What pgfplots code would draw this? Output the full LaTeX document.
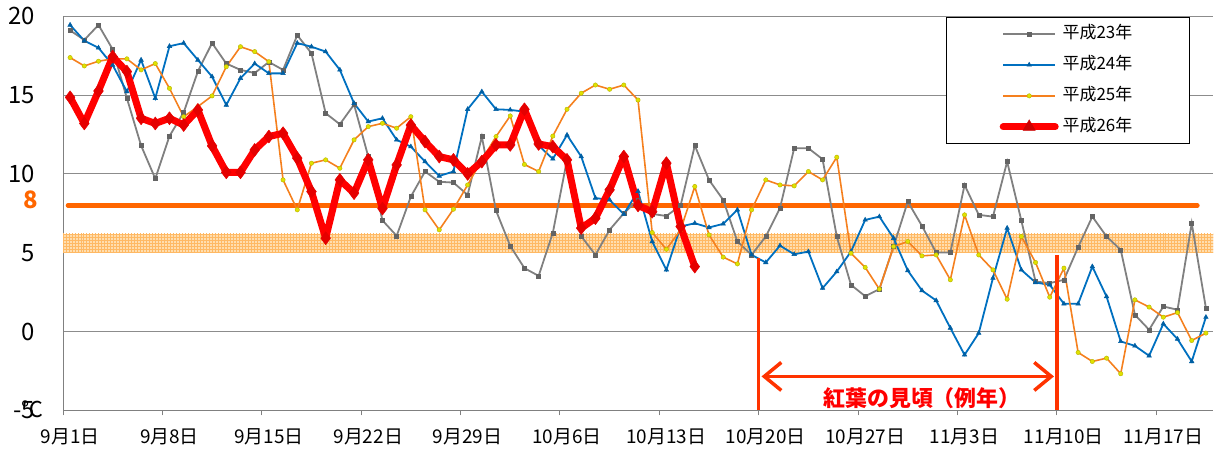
\documentclass[border=0pt]{standalone}
\usepackage{fontspec}
\setmainfont{Noto Sans CJK JP}
\usepackage{pgfplots}
\pgfplotsset{compat=1.18}
\usetikzlibrary{arrows.meta,patterns}
\definecolor{g23}{RGB}{128,128,128}
\definecolor{g23m}{RGB}{100,100,100}
\definecolor{b24}{RGB}{0,112,192}
\definecolor{o25}{RGB}{245,128,30}
\definecolor{y25}{RGB}{225,225,0}
\definecolor{r26}{RGB}{255,0,0}
\definecolor{line8}{RGB}{255,102,0}
\definecolor{vline}{RGB}{255,51,0}
\definecolor{bandc}{RGB}{255,222,175}
\definecolor{bandp}{RGB}{255,185,100}
\begin{document}
\begin{tikzpicture}
\begin{axis}[
  name=ax,
  scale only axis, width=1150bp, height=394bp,
  xmin=-0.5, xmax=80.5, ymin=-5, ymax=20,
  axis lines*=left,
  axis line style={draw=black!50, line width=1bp},
  ytick={-5,0,5,10,15,20},
  yticklabels={-5,0,5,10,15,20},
  ymajorgrids,
  grid style={draw=black!45, line width=0.9bp},
  xtick={0,7,...,77},
  xticklabels={9月1日,9月8日,9月15日,9月22日,9月29日,10月6日,10月13日,10月20日,10月27日,11月3日,11月10日,11月17日},
  major tick length=0pt,
  extra x ticks={-0.5,6.5,13.5,20.5,27.5,34.5,41.5,48.5,55.5,62.5,69.5,76.5},
  extra x tick labels={},
  extra x tick style={major tick length=5bp, tick align=outside, tick style={draw=black!50, line width=1bp}},
  yticklabel style={font=\fontsize{24}{24}\selectfont, anchor=east, inner sep=0pt, xshift=-28bp},
  xticklabel style={font=\fontsize{19}{19}\selectfont, anchor=north, inner sep=0pt, yshift=-18bp},
  clip=false,
  legend image code/.code={\draw[mark repeat=2,mark phase=2,#1] plot coordinates {(0bp,0bp) (26bp,0bp) (52bp,0bp)};},
  legend style={at={(axis cs:61.7,19.97)}, anchor=north west, draw=black, line width=1.2bp, fill=white,
    font=\fontsize{17}{17}\selectfont, inner xsep=53bp, inner ysep=9bp, row sep=16bp,
    nodes={inner xsep=4bp, inner ysep=0pt, text height=12bp, text depth=3bp}},
  legend cell align=left,
]
% band 5 - 6.2
\fill[bandc] (axis cs:-0.5,5) rectangle (axis cs:80.5,6.2);
\fill[pattern=grid, pattern color=bandp] (axis cs:-0.5,5) rectangle (axis cs:80.5,6.2);
% line at 8
\draw[line8, line width=4.5bp, line cap=round] (axis cs:-0.15,8) -- (axis cs:79.4,8);

\addplot[draw=g23, line width=1.8bp, mark=square*, mark size=2bp, mark options={fill=g23m, draw=g23m, line width=0.5bp}] table {
x y
0 19.1
1 18.5
2 19.45
3 17.9
4 14.8
5 11.8
6 9.7
7 12.4
8 13.9
9 16.5
10 18.3
11 17.0
12 16.6
13 16.4
14 17.1
15 16.6
16 18.8
17 17.65
18 13.85
19 13.15
20 14.4
21 11.1
22 7.05
23 6.07
24 8.56
25 10.15
26 9.5
27 9.45
28 8.67
29 12.37
30 7.67
31 5.43
32 4.02
33 3.53
34 6.26
35 10.9
36 6.05
37 4.86
38 6.45
39 7.5
40 8.35
41 7.46
42 7.33
43 8.0
44 11.8
45 9.62
46 8.35
47 5.71
48 4.86
49 6.03
50 7.83
51 11.63
52 11.63
53 10.93
54 6.03
55 2.96
56 2.24
57 2.69
58 5.39
59 8.24
60 6.7
61 5.01
62 5.01
63 9.3
64 7.4
65 7.29
66 10.78
67 7.04
68 3.17
69 3.07
70 3.28
71 5.35
72 7.29
73 6.03
74 5.18
75 1.06
76 0.11
77 1.59
78 1.38
79 6.87
80 1.48
};
\addlegendentry{平成23年}

\addplot[draw=b24, line width=1.8bp, mark=triangle*, mark size=2.6bp, mark options={fill=b24!85!black, draw=b24!85!black, line width=0.5bp}] table {
x y
0 19.45
1 18.45
2 18.0
3 16.9
4 15.22
5 17.23
6 14.8
7 18.1
8 18.3
9 17.23
10 16.17
11 14.37
12 16.07
13 17.0
14 16.38
15 16.38
16 18.3
17 18.07
18 17.76
19 16.6
20 14.48
21 13.32
22 13.53
23 12.16
24 11.73
25 10.78
26 9.87
27 10.15
28 14.1
29 15.22
30 14.1
31 14.06
32 13.95
33 11.8
34 10.95
35 12.47
36 11.1
37 8.47
38 8.35
39 7.45
40 8.9
41 5.71
42 3.91
43 6.66
44 6.87
45 6.6
46 6.83
47 7.72
48 4.86
49 4.38
50 5.45
51 4.9
52 5.07
53 2.75
54 3.8
55 5.07
56 7.08
57 7.29
58 5.92
59 3.87
60 2.6
61 1.97
62 0.22
63 -1.48
64 -0.1
65 3.39
66 6.56
67 3.91
68 3.11
69 2.96
70 1.76
71 1.76
72 4.12
73 2.22
74 -0.63
75 -0.91
76 -1.54
77 0.49
78 -0.48
79 -1.9
80 0.91
};
\addlegendentry{平成24年}

\addplot[draw=o25, line width=1.6bp, mark=*, mark size=2.2bp, mark options={fill=y25, draw=y25!80!black, line width=0.4bp}] table {
x y
0 17.38
1 16.85
2 17.15
3 17.3
4 17.3
5 16.6
6 17.0
7 15.43
8 13.63
9 14.27
10 14.95
11 16.8
12 18.07
13 17.76
14 17.12
15 9.62
16 7.72
17 10.68
18 10.89
19 10.36
20 12.16
21 13.0
22 13.21
23 12.9
24 13.63
25 7.72
26 6.45
27 7.76
28 9.3
29 10.89
30 12.37
31 13.68
32 10.6
33 10.15
34 12.4
35 14.1
36 15.12
37 15.64
38 15.37
39 15.64
40 14.69
41 6.28
42 5.22
43 6.45
44 9.2
45 6.13
46 4.72
47 4.29
48 7.72
49 9.62
50 9.3
51 9.24
52 10.15
53 9.62
54 11.06
55 4.97
56 4.07
57 2.69
58 5.39
59 5.71
60 4.8
61 4.86
62 3.28
63 7.4
64 4.86
65 3.91
66 2.05
67 6.03
68 4.38
69 2.18
70 4.02
71 -1.33
72 -1.9
73 -1.69
74 -2.68
75 2.01
76 1.55
77 0.91
78 1.2
79 -0.57
80 -0.1
};
\addlegendentry{平成25年}

\addplot[forget plot, draw=r26, line width=7bp, line join=round, mark=diamond*, mark size=6.5bp, mark options={fill=r26!90!black, draw=r26!90!black, line width=0.5bp}] table {
x y
0 14.86
1 13.2
2 15.26
3 17.44
4 16.49
5 13.53
6 13.2
7 13.53
8 13.1
9 14.06
10 11.78
11 10.1
12 10.1
13 11.52
14 12.37
15 12.58
16 11.0
17 8.88
18 5.92
19 9.62
20 8.78
21 10.89
22 7.8
23 10.57
24 13.1
25 12.05
26 11.1
27 10.89
28 10.0
29 10.78
30 11.84
31 11.84
32 14.1
33 11.9
34 11.73
35 10.89
36 6.56
37 7.19
38 8.99
39 11.1
40 8.0
41 7.6
42 10.68
43 6.66
44 4.12
};
\addlegendimage{draw=r26, line width=7bp, line cap=round, mark=triangle*, mark size=7bp, mark options={fill=r26!80!black, draw=r26!80!black, line width=0.5bp}}
\addlegendentry{平成26年}

% peak viewing period annotation
\draw[vline, line width=3.5bp] (axis cs:48.5,4.67) -- (axis cs:48.5,-5);
\draw[vline, line width=3.5bp] (axis cs:69.5,4.86) -- (axis cs:69.5,-5);
\draw[vline, line width=3.5bp, {Straight Barb[length=17bp,width=28bp]}-{Straight Barb[length=17bp,width=28bp]}] (axis cs:48.7,-2.85) -- (axis cs:69.3,-2.85);
\node[text=r26, font=\fontsize{22}{22}\selectfont\bfseries, inner sep=0pt] at (axis cs:60.0,-4.2) {紅葉の見頃（例年）};
% 8 label and unit
\node[text=line8, font=\fontsize{24}{24}\selectfont\bfseries, anchor=east, inner sep=0pt] at (axis cs:-0.5,8.35) [xshift=-25bp] {8};
\node[font=\fontsize{22}{22}\selectfont, inner sep=0pt] at (axis cs:-0.5,-5) [xshift=-31bp, yshift=1bp] {℃};
\end{axis}
\pgfresetboundingbox
\path[use as bounding box] ([xshift=-63bp,yshift=-39.4bp]ax.south west) rectangle ([xshift=2bp,yshift=16.3bp]ax.north east);
\end{tikzpicture}
\end{document}
